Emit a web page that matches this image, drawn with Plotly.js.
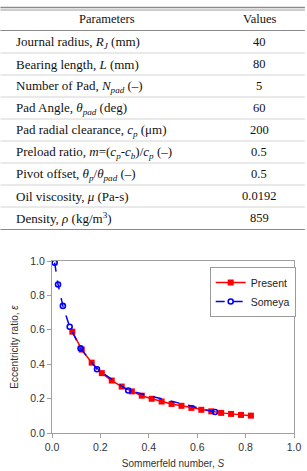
<!DOCTYPE html>
<html>
<head>
<meta charset="utf-8">
<script src="https://cdn.plot.ly/plotly-3.0.1.min.js"></script>
<style>html,body{margin:0;padding:0;background:#fff;}#chart{width:307px;height:471px;}</style>
</head>
<body>
<div id="chart"></div>
<script>
// ---- Table data ----
const paramLabels = [
  "Journal radius, <i>R<sub>J</sub></i> (mm)",
  "Bearing length, <i>L</i> (mm)",
  "Number of Pad, <i>N<sub>pad</sub></i> (\u2013)",
  "Pad Angle, <i>\u03b8<sub>pad</sub></i> (deg)",
  "Pad radial clearance, <i>c<sub>p</sub></i> (\u03bcm)",
  "Preload ratio, <i>m</i>=(<i>c<sub>p</sub></i>-<i>c<sub>b</sub></i>)/<i>c<sub>p</sub></i> (\u2013)",
  "Pivot offset, <i>\u03b8<sub>p</sub></i>/<i>\u03b8<sub>pad</sub></i> (\u2013)",
  "Oil viscosity, <i>\u03bc</i> (Pa-s)",
  "Density, <i>\u03c1</i> (kg/m<sup>3</sup>)"
];
const paramValues = ["40", "80", "5", "60", "200", "0.5", "0.5", "0.0192", "859"];
const tableHeaders = ["Parameters", "Values"];

// ---- Chart data ----
const presentS   = [0.084, 0.123, 0.164, 0.206, 0.247, 0.288, 0.330, 0.371, 0.412, 0.453, 0.494, 0.535, 0.576, 0.617, 0.658, 0.699, 0.740, 0.781, 0.822];
const presentEps = [0.589, 0.485, 0.409, 0.348, 0.305, 0.270, 0.242, 0.217, 0.199, 0.183, 0.169, 0.158, 0.146, 0.135, 0.126, 0.117, 0.111, 0.105, 0.101];
const someyaS    = [0.011, 0.025, 0.045, 0.073, 0.118, 0.186, 0.315, 0.674];
const someyaEps  = [0.990, 0.863, 0.739, 0.618, 0.492, 0.371, 0.247, 0.122];
const xTicks = [0, 0.2, 0.4, 0.6, 0.8, 1.0];
const yTicks = [0, 0.2, 0.4, 0.6, 0.8, 1.0];

// ---- geometry helpers (pixel -> paper) ----
const W = 307, H = 471;
const mL = 52, mR = 11, mT = 261, mB = 38;
const pw = W - mL - mR, ph = H - mT - mB;
const fx = px => (px - mL) / pw;
const fy = py => (H - mB - py) / ph;

const serifLab = {family: "Liberation Serif, Times New Roman, serif", size: 13, color: "#111"};
const serifVal = {family: "Liberation Serif, Times New Roman, serif", size: 12.5, color: "#111"};
const annotations = [];
const shapes = [];

// header
annotations.push({xref:"paper", yref:"paper", x: fx(107), y: fy(19), text: tableHeaders[0], showarrow:false, xanchor:"center", yanchor:"middle", font: serifVal});
annotations.push({xref:"paper", yref:"paper", x: fx(261), y: fy(19), text: tableHeaders[1], showarrow:false, xanchor:"center", yanchor:"middle", font: serifVal});
// rows
for (let i = 0; i < paramLabels.length; i++) {
  const yy = 42 + 22 * i;
  annotations.push({xref:"paper", yref:"paper", x: fx(14), y: fy(yy), text: paramLabels[i], showarrow:false, xanchor:"left", yanchor:"middle", font: serifLab});
  annotations.push({xref:"paper", yref:"paper", x: fx(261), y: fy(yy), text: paramValues[i], showarrow:false, xanchor:"center", yanchor:"middle", font: serifVal});
}
function hline(py, w, c) {
  shapes.push({type:"line", xref:"paper", yref:"paper", x0: fx(0), x1: fx(307), y0: fy(py), y1: fy(py), line:{color:c, width:w}});
}
hline(7.5, 1.5, "#8a8a8a");
hline(10, 1, "#9a9a9a");
hline(30.5, 1.2, "#8a8a8a");
for (let i = 0; i < paramLabels.length - 1; i++) hline(53 + 22 * i, 1, "#d4d4d4");
hline(229.5, 1.2, "#8a8a8a");

const sans = "Liberation Sans, Arial, sans-serif";

const traces = [
  {x: presentS, y: presentEps, name: "Present", type: "scatter", mode: "lines+markers",
   line: {color: "#ff0000", width: 1.5}, marker: {symbol: "square", size: 6, color: "#ff0000"}},
  {x: someyaS, y: someyaEps, name: "Someya", type: "scatter", mode: "lines+markers",
   line: {color: "#0000ff", width: 1.5, dash: "dash"},
   marker: {symbol: "circle-open", size: 5, color: "#0000ff", line: {width: 1.6, color: "#0000ff"}}}
];

const layout = {
  width: W, height: H,
  margin: {l: mL, r: mR, t: mT, b: mB, pad: 0},
  paper_bgcolor: "#fff", plot_bgcolor: "#fff",
  showlegend: true,
  legend: {x: fx(211), y: fy(267), xanchor: "left", yanchor: "top", bgcolor: "#fff",
           bordercolor: "#9a9a9a", borderwidth: 1, font: {family: sans, size: 10.5, color: "#222"},
           itemwidth: 30, tracegroupgap: 0},
  xaxis: {range: [0, 1], tickvals: xTicks, tickformat: ".1f", showgrid: false, zeroline: false,
          showline: true, linecolor: "#a0a0a0", linewidth: 1, mirror: true,
          ticks: "outside", ticklen: 4, tickcolor: "#a0a0a0",
          tickfont: {family: sans, size: 10.5, color: "#333"},
          title: {text: "Sommerfeld number, <i>S</i>", font: {family: sans, size: 10, color: "#333"}, standoff: 8}},
  yaxis: {range: [0, 1], tickvals: yTicks, tickformat: ".1f", showgrid: false, zeroline: false,
          showline: true, linecolor: "#a0a0a0", linewidth: 1, mirror: true,
          ticks: "outside", ticklen: 4, tickcolor: "#a0a0a0",
          tickfont: {family: sans, size: 10.5, color: "#333"},
          title: {text: "Eccentricity ratio, <i>\u03b5</i>", font: {family: sans, size: 10, color: "#333"}, standoff: 9}},
  annotations: annotations,
  shapes: shapes
};

Plotly.newPlot("chart", traces, layout, {displayModeBar: false, staticPlot: true});
</script>
</body>
</html>
